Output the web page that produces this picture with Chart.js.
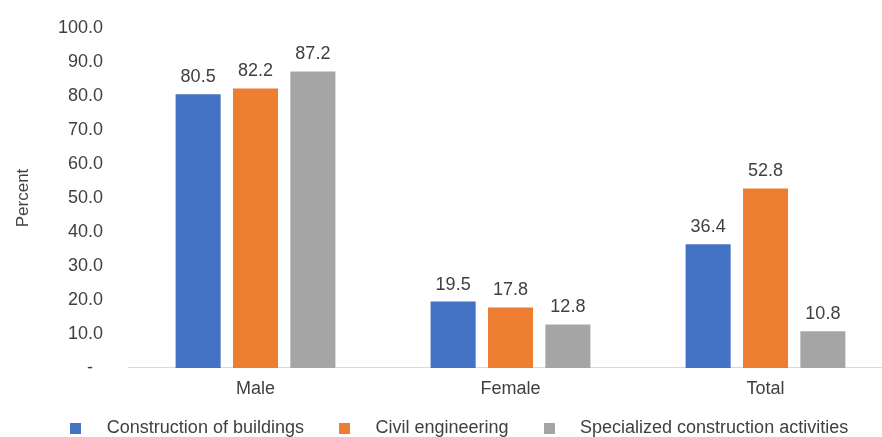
<!DOCTYPE html>
<html>
<head>
<meta charset="utf-8">
<script src="https://cdn.jsdelivr.net/npm/chart.js@4.4.1/dist/chart.umd.min.js"></script>
<style>
  html, body { margin: 0; padding: 0; background: #ffffff; overflow: hidden; width: 882px; height: 437px; }
  #wrap { position: relative; width: 893px; height: 437px; }
</style>
</head>
<body>
<div id="wrap"><canvas id="chart"></canvas></div>
<script>
const categories = ['Male', 'Female', 'Total'];
const seriesNames = ['Construction of buildings', 'Civil engineering', 'Specialized construction activities'];
const constructionOfBuildings = [80.5, 19.5, 36.4];
const civilEngineering = [82.2, 17.8, 52.8];
const specializedActivities = [87.2, 12.8, 10.8];
const yTicks = [0, 10, 20, 30, 40, 50, 60, 70, 80, 90, 100];

const colors = ['#4472C4', '#ED7D31', '#A5A5A5'];
const textColor = '#404040';
const fontFamily = '"Liberation Sans", Arial, sans-serif';

function makeMarker(color) {
  const c = document.createElement('canvas');
  c.width = 11; c.height = 11;
  const g = c.getContext('2d');
  g.fillStyle = color;
  g.fillRect(0, 0, 11, 11);
  return c;
}
const markers = colors.map(makeMarker);

const valueLabels = {
  id: 'valueLabels',
  afterDatasetsDraw(chart) {
    const ctx = chart.ctx;
    ctx.save();
    ctx.font = '18px ' + fontFamily;
    ctx.fillStyle = textColor;
    ctx.textAlign = 'center';
    ctx.textBaseline = 'bottom';
    chart.data.datasets.forEach((ds, i) => {
      const meta = chart.getDatasetMeta(i);
      meta.data.forEach((el, j) => {
        ctx.fillText(ds.data[j].toFixed(1), el.x, el.y - 8);
      });
    });
    ctx.restore();
  }
};

const seriesData = [constructionOfBuildings, civilEngineering, specializedActivities];

new Chart(document.getElementById('chart'), {
  type: 'bar',
  data: {
    labels: categories,
    datasets: seriesNames.map((name, i) => ({
      label: name,
      data: seriesData[i],
      backgroundColor: colors[i],
      borderWidth: 0,
      categoryPercentage: 0.675,
      barPercentage: 0.785
    }))
  },
  options: {
    responsive: true,
    maintainAspectRatio: false,
    animation: false,
    layout: { padding: { top: 28, left: 9, right: 0, bottom: -10 } },
    plugins: {
      tooltip: { enabled: false },
      legend: {
        position: 'bottom',
        labels: {
          color: textColor,
          font: { size: 18, family: fontFamily },
          usePointStyle: true,
          pointStyleWidth: 44,
          padding: 18.5,
          generateLabels(chart) {
            const items = Chart.defaults.plugins.legend.labels.generateLabels(chart);
            items.forEach((it, i) => { it.pointStyle = markers[i]; });
            return items;
          }
        }
      }
    },
    scales: {
      x: {
        afterFit(scale) { scale.height = 32.6; },
        grid: { display: false, drawTicks: false },
        border: { display: true, color: '#d9d9d9', width: 1 },
        ticks: { color: textColor, font: { size: 18, family: fontFamily }, padding: 10 }
      },
      y: {
        min: 0,
        max: 100,
        afterFit(scale) { scale.width = 119; scale.paddingTop = 0; scale.paddingBottom = 0; },
        afterBuildTicks(scale) { scale.ticks = yTicks.map(v => ({ value: v })); },
        grid: { display: false, drawTicks: false },
        border: { display: false },
        ticks: {
          color: textColor,
          font: { size: 18, family: fontFamily },
          padding: 25,
          callback: (v) => v === 0 ? '-  ' : Number(v).toFixed(1)
        },
        title: {
          display: true,
          text: 'Percent',
          color: textColor,
          font: { size: 17, family: fontFamily }
        }
      }
    }
  },
  plugins: [valueLabels]
});
</script>
</body>
</html>
